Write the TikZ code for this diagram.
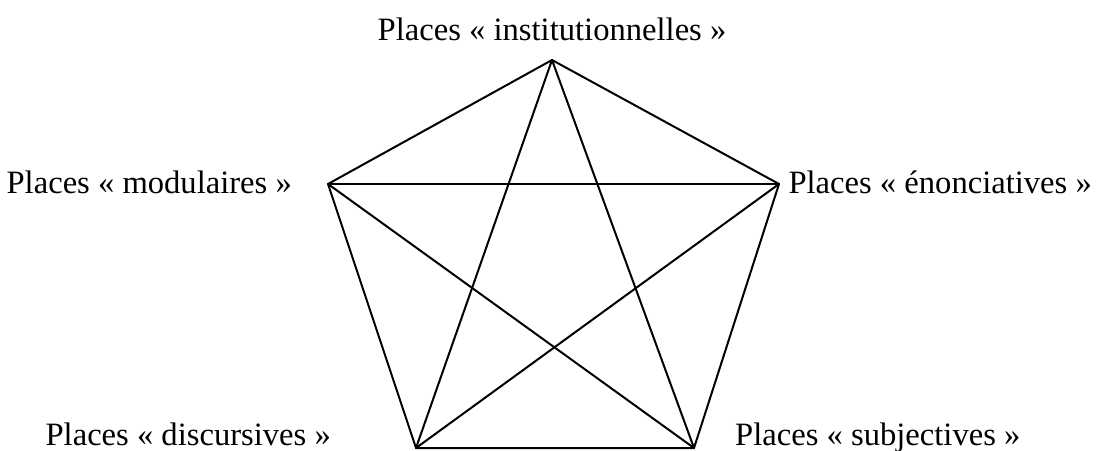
\documentclass[tikz,border=0pt]{standalone}
\usepackage{fontspec}
\setmainfont{Liberation Serif}
\tikzset{
  edge/.style={line width=2pt, line join=round, line cap=round},
  lbl/.style={inner sep=0pt, font=\fontsize{32.6}{38}\selectfont}
}
\begin{document}
\begin{tikzpicture}[x=1pt,y=-1pt]
\useasboundingbox (0,0) rectangle (1098,450);
\coordinate (A) at (552,60);
\coordinate (B) at (779,184);
\coordinate (C) at (694,448);
\coordinate (D) at (416,448);
\coordinate (E) at (328,184);
\draw[edge] (A) -- (B) -- (C) -- (D) -- (E) -- cycle;
\draw[edge] (A) -- (C);
\draw[edge] (A) -- (D);
\draw[edge] (B) -- (D);
\draw[edge] (B) -- (E);
\draw[edge] (C) -- (E);
\node[lbl, anchor=base] (tA) at (552,40) {Places « institutionnelles »};
\node[lbl, anchor=base east] (tE) at (292,193) {Places « modulaires »};
\node[lbl, anchor=base east] (tB) at (1092,193) {Places « énonciatives »};
\node[lbl, anchor=base east] (tD) at (331,445) {Places « discursives »};
\node[lbl, anchor=base west] (tC) at (735,445) {Places « subjectives »};
\end{tikzpicture}
\end{document}
